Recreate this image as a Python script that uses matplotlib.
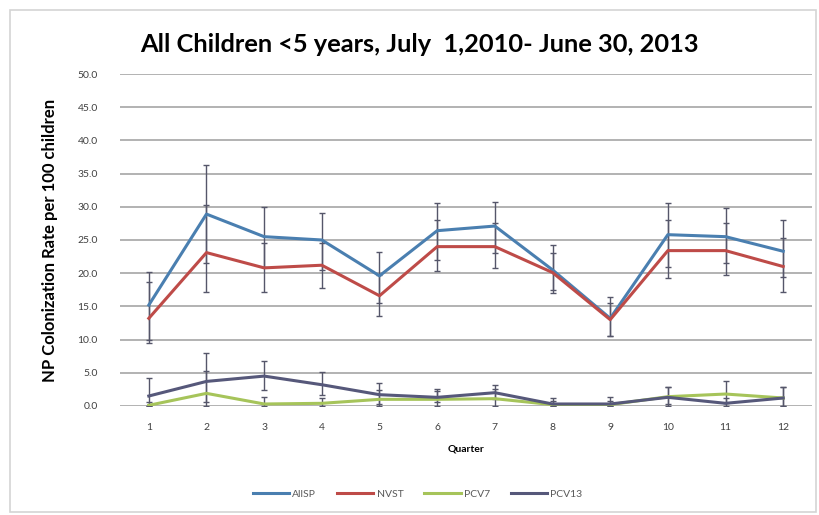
import matplotlib.pyplot as plt
import numpy as np
from matplotlib.patches import Rectangle
from matplotlib.lines import Line2D

plt.rcParams['font.family'] = ['Lato', 'DejaVu Sans']

# Quarters (July 2010 - June 2013)
quarters = np.arange(1, 13)

allsp = [15.2, 28.9, 25.5, 25.0, 19.6, 26.4, 27.1, 20.5, 13.2, 25.8, 25.5, 23.3]
allsp_lo = [10.0, 21.5, 21.0, 20.5, 15.5, 22.0, 23.0, 17.0, 10.5, 21.0, 21.5, 19.5]
allsp_hi = [20.2, 36.3, 29.9, 29.1, 23.2, 30.5, 30.7, 24.2, 16.4, 30.5, 29.8, 28.0]

nvst = [13.2, 23.1, 20.8, 21.2, 16.6, 24.0, 24.0, 20.1, 13.0, 23.4, 23.4, 21.0]
nvst_lo = [9.5, 17.2, 17.2, 17.8, 13.5, 20.3, 20.8, 17.5, 10.5, 19.3, 19.8, 17.1]
nvst_hi = [18.6, 30.3, 24.5, 24.5, 19.8, 28.0, 27.5, 23.0, 15.5, 28.0, 27.5, 25.3]

pcv7 = [0.1, 1.9, 0.3, 0.4, 1.0, 1.0, 1.1, 0.2, 0.2, 1.4, 1.8, 1.2]
pcv7_lo = [0.0, 0.0, 0.0, 0.0, 0.0, 0.0, 0.0, 0.0, 0.0, 0.0, 0.5, 0.0]
pcv7_hi = [0.6, 5.2, 1.4, 1.2, 2.4, 2.3, 2.6, 0.8, 0.8, 2.8, 3.7, 2.8]

pcv13 = [1.5, 3.7, 4.5, 3.2, 1.7, 1.3, 2.0, 0.3, 0.3, 1.3, 0.4, 1.2]
pcv13_lo = [0.0, 0.6, 2.4, 1.7, 0.3, 0.6, 1.0, 0.0, 0.0, 0.3, 0.0, 0.0]
pcv13_hi = [4.2, 8.0, 6.8, 5.1, 3.5, 2.5, 3.2, 1.2, 1.3, 2.8, 1.2, 2.9]

series = [
    ('AllSP', allsp, allsp_lo, allsp_hi, '#4a7fb0'),
    ('NVST', nvst, nvst_lo, nvst_hi, '#be4b48'),
    ('PCV7', pcv7, pcv7_lo, pcv7_hi, '#a6c45a'),
    ('PCV13', pcv13, pcv13_lo, pcv13_hi, '#56587a'),
]

fig = plt.figure(figsize=(8.2, 5.15), dpi=100)
fig.patches.append(Rectangle((10 / 820, 0.005), 0.995 - 10 / 820, 0.975,
                             transform=fig.transFigure, fill=False,
                             edgecolor='#d4d4d4', linewidth=1.2))

ax = fig.add_axes([0.1463, 0.2117, 0.8440, 0.6446])

handles = []
for name, vals, lo, hi, color in series:
    vals = np.array(vals)
    yerr = [vals - np.array(lo), np.array(hi) - vals]
    ax.errorbar(quarters, vals, yerr=yerr, color=color, linewidth=2.2,
                ecolor='#55566a', elinewidth=1.0, capsize=2.5, capthick=1.0,
                zorder=3)
    handles.append(Line2D([], [], color=color, linewidth=2.2, label=name))

ax.set_xlim(0.5, 12.5)
ax.set_ylim(0, 50)
ax.set_yticks(np.arange(0, 51, 5))
ax.set_yticklabels([f'{v:.1f}' for v in np.arange(0, 51, 5)])
ax.set_xticks(quarters)
ax.tick_params(axis='both', length=0, labelsize=7.5, colors='#404040')
ax.tick_params(axis='y', pad=16)
ax.tick_params(axis='x', pad=12)
ax.grid(axis='y', color='#a6a6a6', linewidth=1.2)
ax.set_axisbelow(True)
for s in ax.spines.values():
    s.set_visible(False)

ax.set_xlabel('Quarter', fontsize=7.5, fontweight='bold', labelpad=9)
ax.set_ylabel('NP Colonization Rate per 100 children', fontsize=12,
              fontweight='bold', labelpad=14)

fig.text(0.512, 0.913, 'All Children <5 years, July  1,2010- June 30, 2013',
         ha='center', va='center', fontsize=18.3, fontweight='bold')

leg = ax.legend(handles=handles, loc='center', bbox_to_anchor=(0.43, -0.265),
                ncol=4, frameon=False, fontsize=7.5, handlelength=3.5,
                handletextpad=0.3, columnspacing=2.0)
for t in leg.get_texts():
    t.set_color('#595959')

fig.savefig('out.png', dpi=100, facecolor='white')
